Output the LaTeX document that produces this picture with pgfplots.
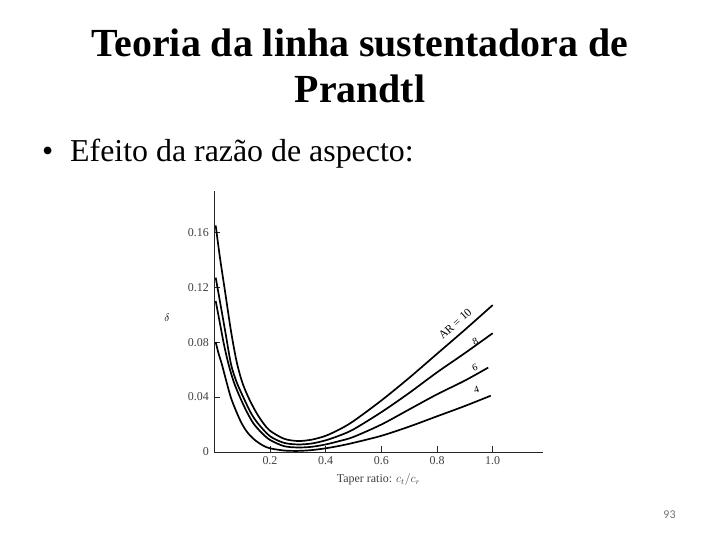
\documentclass[border=0pt]{standalone}
\usepackage{pgfplots}
\pgfplotsset{compat=1.18}
\usepackage{fontspec}
\setmainfont{Liberation Serif}
\newfontfamily\calibri{Carlito}

\begin{document}
\begin{tikzpicture}
\path[use as bounding box, fill=white] (0,0) rectangle (720bp,-540bp);

% slide title and bullet
\node[anchor=base, inner sep=0pt] at (360bp,-56bp) {\fontsize{40}{46}\selectfont\bfseries Teoria da linha sustentadora de};
\node[anchor=base, inner sep=0pt] at (360bp,-102bp) {\fontsize{40}{46}\selectfont\bfseries Prandtl};
\node[anchor=base west, inner sep=0pt] at (42bp,-161bp) {\fontsize{32}{38}\selectfont\textbullet};
\node[anchor=base west, inner sep=0pt] at (70bp,-161bp) {\fontsize{32}{38}\selectfont Efeito da razão de aspecto:};
\node[text=black!55] at (669.5bp,-515bp) {\calibri\fontsize{12}{14}\selectfont 93};

\begin{axis}[
    at={(214.3bp,-452bp)},
    anchor=origin,
    scale only axis,
    width=328.5bp,
    height=260.9bp,
    xmin=0, xmax=1.18,
    ymin=0, ymax=0.19,
    axis x line=bottom,
    axis y line=left,
    axis line style={-, line width=0.8pt, black!85},
    tick align=inside,
    major tick length=6bp,
    tick style={line width=0.8pt, black!85},
    xtick={0.2,0.4,0.6,0.8,1.0},
    xticklabels={0.2,0.4,0.6,0.8,1.0},
    ytick={0,0.04,0.08,0.12,0.16},
    yticklabels={0,0.04,0.08,0.12,0.16},
    ticklabel style={font=\fontsize{12}{14}\selectfont, text=black!75},
    yticklabel style={xshift=-2bp},
    xticklabel style={yshift=-1bp},
    xlabel={Taper ratio: $c_t/c_r$},
    xlabel style={font=\fontsize{12}{14}\selectfont, text=black!75, yshift=-2bp},
    ylabel={$\delta$},
    ylabel style={rotate=-90, at={(axis description cs:-0.144,0.514)}, anchor=center, font=\fontsize{11}{13}\selectfont},
    clip=false,
]
% AR = 10
\addplot[black, line width=1.7pt, smooth, no markers] coordinates {
    (0.005,0.165) (0.02,0.142) (0.04,0.115) (0.06,0.088) (0.08,0.066) (0.10,0.051)
    (0.122,0.040) (0.15,0.029) (0.176,0.021) (0.20,0.0155) (0.25,0.0097) (0.30,0.0080)
    (0.35,0.0090) (0.40,0.0118) (0.45,0.0165) (0.50,0.0225) (0.60,0.0375) (0.70,0.054)
    (0.80,0.0715) (0.90,0.089) (1.00,0.107)
};
% AR = 8
\addplot[black, line width=1.7pt, smooth, no markers] coordinates {
    (0.005,0.127) (0.02,0.11) (0.04,0.087) (0.06,0.064) (0.08,0.051) (0.104,0.040)
    (0.13,0.029) (0.156,0.021) (0.20,0.0115) (0.25,0.0067) (0.30,0.0055) (0.35,0.0062)
    (0.40,0.0085) (0.45,0.012) (0.50,0.0165) (0.60,0.029) (0.70,0.043) (0.80,0.058)
    (0.90,0.072) (1.00,0.0865)
};
% AR = 6
\addplot[black, line width=1.7pt, smooth, no markers] coordinates {
    (0.005,0.110) (0.02,0.094) (0.035,0.078) (0.051,0.064) (0.07,0.051) (0.092,0.040)
    (0.115,0.030) (0.14,0.021) (0.17,0.0140) (0.20,0.0088) (0.25,0.0043) (0.30,0.0033)
    (0.35,0.0038) (0.40,0.0055) (0.45,0.0080) (0.50,0.0110) (0.60,0.020) (0.70,0.031)
    (0.80,0.042) (0.90,0.052) (0.984,0.0615)
};
% AR = 4
\addplot[black, line width=1.7pt, smooth, no markers] coordinates {
    (0.005,0.080) (0.015,0.072) (0.027,0.064) (0.04,0.054) (0.059,0.040) (0.078,0.030)
    (0.098,0.021) (0.12,0.014) (0.146,0.0087) (0.175,0.0047) (0.20,0.0027) (0.25,0.0011)
    (0.30,0.0008) (0.35,0.0014) (0.40,0.0027) (0.45,0.0045) (0.50,0.0067) (0.60,0.0118)
    (0.70,0.0185) (0.80,0.026) (0.90,0.0335) (0.993,0.041)
};
\node[rotate=42, font=\fontsize{11.5}{14}\selectfont, inner sep=0pt] at (axis cs:0.865,0.0935) {AR = 10};
\node[rotate=25, font=\fontsize{10}{12}\selectfont, inner sep=0pt] at (axis cs:0.937,0.0805) {8};
\node[rotate=20, font=\fontsize{10}{12}\selectfont, inner sep=0pt] at (axis cs:0.936,0.0617) {6};
\node[rotate=15, font=\fontsize{10}{12}\selectfont, inner sep=0pt] at (axis cs:0.942,0.0452) {4};
\end{axis}
\end{tikzpicture}
\end{document}
